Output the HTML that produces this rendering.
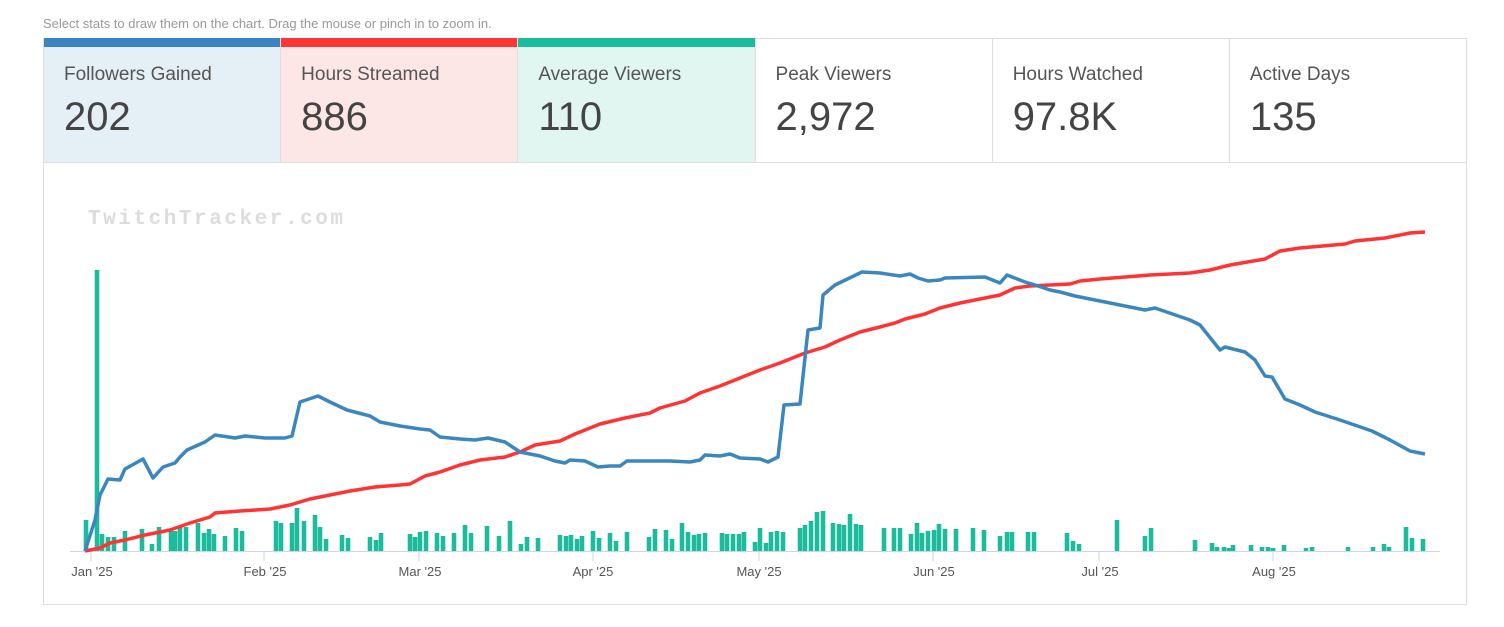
<!DOCTYPE html>
<html><head><meta charset="utf-8"><style>
body{margin:0;background:#fff;width:1504px;height:627px;overflow:hidden;font-family:"Liberation Sans",sans-serif;position:relative}
.hint{position:absolute;left:43px;top:16px;font-size:13px;color:#999}
.cards{position:absolute;left:43px;top:38px;width:1424px;height:125px;display:flex;border:1px solid #ddd;box-sizing:border-box}
.card{flex:1;border-right:1px solid #ddd;position:relative;box-sizing:border-box}
.card:last-child{border-right:none}
.card .bar{position:absolute;left:0;right:0;top:-1px;height:9px}
.card .l{position:absolute;left:20px;top:25px;font-size:19px;color:#555}
.card .v{position:absolute;left:20px;top:56px;font-size:40px;color:#444}
.chart{position:absolute;left:43px;top:163px;width:1424px;height:442px;border:1px solid #ddd;border-top:none;box-sizing:border-box}
</style></head><body>
<div class="hint">Select stats to draw them on the chart. Drag the mouse or pinch in to zoom in.</div>
<div class="cards">
<div class="card" style="background:#e4eff6"><div class="bar" style="background:#3a84c1"></div><div class="l">Followers Gained</div><div class="v">202</div></div>
<div class="card" style="background:#fde6e6"><div class="bar" style="background:#ff3535"></div><div class="l">Hours Streamed</div><div class="v">886</div></div>
<div class="card" style="background:#e1f6f0"><div class="bar" style="background:#1abc9c"></div><div class="l">Average Viewers</div><div class="v">110</div></div>
<div class="card"><div class="l">Peak Viewers</div><div class="v">2,972</div></div>
<div class="card"><div class="l">Hours Watched</div><div class="v">97.8K</div></div>
<div class="card"><div class="l">Active Days</div><div class="v">135</div></div>
</div>
<div class="chart"></div>
<svg width="1504" height="627" style="position:absolute;left:0;top:0">
<text x="88" y="224" font-family="Liberation Mono,monospace" font-weight="bold" font-size="21" fill="#dcdcdc" textLength="255" lengthAdjust="spacing">TwitchTracker.com</text>
<g id="bars" fill="#1abc9c"></g>
<line x1="70" y1="551.5" x2="1440" y2="551.5" stroke="#ccd6eb"/>
<g stroke="#ccd6eb">
<line x1="91" y1="551" x2="91" y2="561"/><line x1="264" y1="551" x2="264" y2="561"/><line x1="419" y1="551" x2="419" y2="561"/><line x1="593" y1="551" x2="593" y2="561"/><line x1="759" y1="551" x2="759" y2="561"/><line x1="933" y1="551" x2="933" y2="561"/><line x1="1099" y1="551" x2="1099" y2="561"/><line x1="1273" y1="551" x2="1273" y2="561"/>
</g>
<g font-size="13" fill="#555" text-anchor="middle">
<text x="92" y="576">Jan '25</text><text x="265" y="576">Feb '25</text><text x="420" y="576">Mar '25</text><text x="593" y="576">Apr '25</text><text x="759" y="576">May '25</text><text x="934" y="576">Jun '25</text><text x="1100" y="576">Jul '25</text><text x="1274" y="576">Aug '25</text>
</g>
<polyline fill="none" stroke="#ff3333" stroke-width="3.5" stroke-linejoin="round" points="85,551 100,548 110,543 125,540 145,535 170,530 190,523 210,517 215,513 240,511 270,509 290,505 310,499 330,495 350,491 375,487 400,485 410,484 425,476 440,472 460,465 480,460 505,457 520,452 535,445 560,441 575,434 600,424 625,418 650,413 660,408 685,401 700,393 720,386 740,378 760,370 780,363 805,353 825,347 840,340 860,332 880,327 895,323 905,319 925,314 940,308 960,303 980,299 1000,295 1015,288 1030,286 1070,284 1080,281 1100,279 1150,275 1190,273 1210,270 1230,265 1265,259 1280,251 1300,248 1345,244 1355,241 1385,238 1410,233 1425,232"/>
<polyline fill="none" stroke="#3a87c0" stroke-width="3.5" stroke-linejoin="round" points="85,551 95,520 100,495 108,479 120,480 125,469 143,459 153,478 163,467 175,463 180,457 187,450 205,442 215,435 235,438 245,436 265,438 285,438 292,436 300,402 318,396 330,402 347,410 370,416 380,422 400,426 420,429 430,430 440,437 460,439 475,440 488,438 505,442 520,452 540,456 555,461 565,463 570,460 585,461 598,467 610,466 620,466 627,461 650,461 670,461 690,462 700,460 705,455 720,456 730,454 740,458 760,459 768,462 778,457 784,405 800,404 808,330 820,328 823,295 835,285 862,272 880,273 900,276 910,274 918,278 928,281 940,280 945,278 985,277 1000,283 1007,275 1025,282 1035,285 1050,290 1060,292 1075,296 1100,301 1145,310 1155,308 1190,320 1200,325 1212,340 1220,350 1225,347 1245,352 1255,360 1265,376 1272,377 1285,399 1300,405 1315,412 1340,420 1372,431 1390,440 1410,451 1425,454"/>
</svg>
<script>
var d=[[86,31],[97,281],[102,17],[108,14],[114,14],[125,20],[142,22],[152,7],[159,24],[171,20],[175,20],[180,24],[186,24],[198,28],[204,18],[209,22],[214,17],[225,15],[236,23],[242,20],[276,30],[281,28],[292,28],[297,43],[304,30],[315,36],[320,24],[326,12],[342,16],[348,13],[370,14],[376,11],[381,18],[410,17],[415,14],[420,19],[426,20],[437,18],[443,15],[454,18],[465,26],[471,18],[487,25],[499,15],[510,30],[521,7],[527,14],[538,13],[560,16],[566,15],[571,16],[577,12],[582,15],[593,20],[599,13],[610,18],[616,10],[627,19],[649,14],[655,22],[666,21],[672,12],[682,28],[688,19],[694,16],[699,17],[705,18],[722,18],[727,17],[733,17],[739,17],[744,19],[755,9],[760,23],[766,8],[771,19],[777,20],[783,19],[800,23],[805,26],[811,30],[817,39],[823,40],[833,28],[839,27],[844,26],[850,37],[856,27],[861,26],[884,23],[894,23],[900,23],[911,17],[917,28],[922,18],[928,20],[934,21],[939,27],[945,22],[956,22],[973,23],[984,21],[1000,15],[1007,19],[1012,19],[1028,19],[1034,19],[1067,18],[1073,10],[1079,7],[1117,31],[1145,15],[1151,23],[1195,11],[1212,8],[1217,4],[1224,4],[1229,3],[1233,6],[1251,6],[1262,4],[1268,4],[1273,3],[1284,6],[1306,3],[1312,4],[1348,4],[1373,4],[1384,7],[1389,4],[1406,24],[1412,13],[1423,12]];
var g=document.getElementById('bars'),s='';
d.forEach(function(b){s+='<rect x="'+(b[0]-2.3)+'" y="'+(551-b[1])+'" width="4.6" height="'+b[1]+'"/>';});
g.innerHTML=s;
</script>
</body></html>
